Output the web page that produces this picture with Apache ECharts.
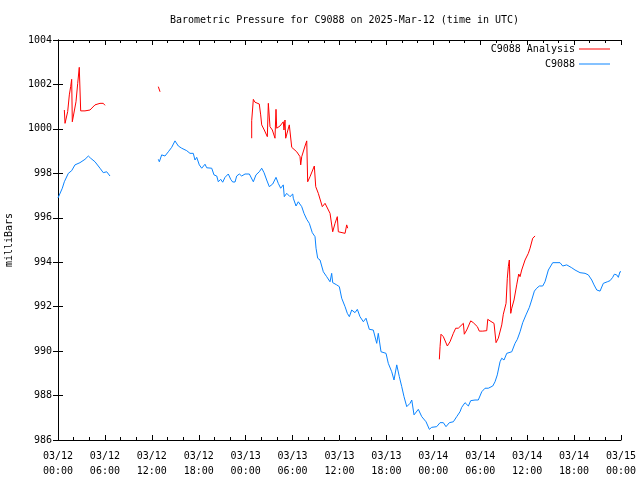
<!DOCTYPE html>
<html>
<head>
<meta charset="utf-8">
<script src="https://cdn.jsdelivr.net/npm/echarts@6/dist/echarts.min.js"></script>
<style>html,body{margin:0;padding:0;background:#fff;}#c{width:640px;height:480px;}</style>
</head>
<body>
<div id="c"></div>
<script>
// Hours since 2025-03-12 00:00 UTC; null = gap in record
var blueHours = [0,0.55,0.81,1.32,1.75,2.17,2.81,3.45,3.88,4.18,4.73,5.37,5.79,6.23,6.65,
  9.7,
  12.83,12.96,13.26,13.68,14.11,14.54,14.96,15.39,15.82,16.46,16.88,17.30,17.52,17.74,18.07,18.38,18.80,19.02,19.66,19.95,
  20.30,20.50,20.81,21.06,21.36,21.78,22.09,22.34,22.64,22.85,23.19,23.49,23.92,24.47,24.98,25.32,25.74,26.05,26.35,26.69,
  27.02,27.46,27.88,28.17,28.48,28.81,28.94,29.25,29.67,30.02,30.09,30.44,30.73,31.17,31.46,31.81,32.14,32.52,32.87,33.0,
  33.21,33.51,33.93,34.36,34.79,35.0,35.13,35.64,35.98,36.28,36.71,37.0,37.26,37.56,37.98,38.28,38.62,39.05,39.39,39.81,
  40.32,40.76,40.96,41.31,41.95,42.24,42.68,42.97,43.32,43.65,43.96,44.25,44.60,45.02,45.24,45.53,46.08,46.52,47.07,47.49,
  47.79,48.43,48.86,49.28,49.62,50.05,50.56,50.99,51.41,51.63,52.05,52.48,52.78,53.33,53.75,54.19,54.61,55.03,55.60,55.89,
  56.18,56.53,56.75,57.04,57.39,58.03,58.45,58.74,59.09,59.43,59.85,60.28,60.58,60.92,61.22,61.56,61.99,62.28,62.71,63.27,
  64.20,64.55,65.06,65.70,66.12,66.34,66.76,67.40,67.82,68.26,68.55,68.90,69.32,69.54,69.74,69.96,70.25,70.60,70.94,71.15,
  71.45,71.66,71.87,72.0];
var blueValues = [996.89,997.33,997.62,998.0,998.12,998.38,998.48,998.63,998.78,998.68,998.52,998.23,998.03,998.07,997.88,
  null,
  998.63,998.52,998.83,998.78,998.97,999.17,999.46,999.23,999.13,999.02,998.9,998.9,998.6,998.72,998.38,998.23,998.41,998.25,998.23,997.93,
  997.88,997.62,997.73,997.6,997.82,997.97,997.73,997.61,997.61,997.88,997.97,997.88,997.97,997.97,997.62,997.93,998.07,998.23,998.03,997.7,
  997.4,997.52,997.82,997.55,997.33,997.48,996.95,997.1,996.95,997.07,996.88,996.53,996.72,996.5,996.2,995.93,995.75,995.33,995.15,994.63,
  994.18,994.1,993.57,993.35,993.12,993.5,993.08,992.98,992.9,992.38,992.0,991.7,991.55,991.85,991.73,991.88,991.55,991.32,991.48,990.98,
  990.95,990.35,990.8,989.97,989.9,989.45,989.07,988.7,989.38,988.85,988.4,987.95,987.5,987.65,987.8,987.13,987.38,987.05,986.82,986.48,
  986.57,986.6,986.78,986.78,986.6,986.78,986.82,987.05,987.27,987.47,987.68,987.53,987.77,987.8,987.8,988.17,988.33,988.33,988.43,988.62,
  988.93,989.52,989.68,989.6,989.9,989.97,990.35,990.53,990.87,991.28,991.63,991.97,992.3,992.7,992.83,992.93,992.93,993.12,993.65,993.98,
  993.98,993.83,993.88,993.75,993.65,993.73,993.53,993.5,993.43,993.2,992.98,992.75,992.7,992.75,993.05,992.98,993.12,993.17,993.32,993.46,
  993.43,993.32,993.57,993.57];

var redHours = [0.81,0.9,1.11,1.24,1.45,1.62,1.75,1.83,2.08,2.3,2.52,2.72,2.9,3.45,4.09,4.73,5.37,5.79,6.01,
  9.0,
  12.83,13.05,
  18.0,
  24.77,24.77,24.98,25.19,25.74,25.92,26.05,26.38,26.77,26.90,27.11,27.41,27.75,27.88,27.97,28.39,28.81,28.90,29.03,29.12,
  29.58,29.67,29.89,30.53,30.95,31.04,31.17,31.59,31.81,31.93,32.23,32.78,32.96,33.29,33.80,34.15,34.79,35.13,35.43,35.72,
  35.85,36.07,36.71,36.92,37.05,
  43.0,
  48.77,48.86,48.98,49.28,49.79,50.13,50.56,50.86,51.19,51.84,51.96,52.27,52.78,53.11,53.63,53.88,54.32,54.83,54.96,55.25,
  55.76,56.02,56.31,56.75,56.95,57.17,57.30,57.46,57.59,57.72,57.90,58.03,58.32,58.66,58.92,59.09,59.30,59.73,60.15,60.37,
  60.71,61.01];
var redValues = [1000.85,1000.25,1000.25,1000.78,1001.53,1001.9,1002.23,1000.32,1000.32,1001.22,1002.05,1002.77,1000.81,1000.81,1000.85,1001.08,1001.15,1001.15,1001.06,
  null,
  1001.9,1001.67,
  null,
  999.58,1000.37,1001.33,1001.2,1001.12,1000.63,1000.18,999.95,999.65,1001.15,1000.1,999.95,999.58,1000.88,1000.03,1000.13,1000.32,999.95,1000.4,999.58,
  1000.18,1000.25,999.17,998.97,998.75,998.38,998.75,999.23,999.46,997.62,997.85,998.33,997.4,997.1,996.5,996.65,996.2,995.37,995.75,996.05,
  995.37,995.33,995.3,995.68,995.53,
  null,
  989.63,990.2,990.76,990.65,990.23,990.42,990.8,991.03,991.03,991.25,990.76,990.95,991.36,991.28,991.1,990.9,990.9,990.92,991.43,991.36,
  991.25,990.38,990.58,991.18,991.66,991.66,992.15,993.28,993.8,994.1,991.7,991.93,992.3,992.98,993.47,993.35,993.65,994.1,994.4,994.63,
  995.08,995.18];

var xTickLabels = ['03/12\n00:00','03/12\n06:00','03/12\n12:00','03/12\n18:00','03/13\n00:00','03/13\n06:00','03/13\n12:00',
  '03/13\n18:00','03/14\n00:00','03/14\n06:00','03/14\n12:00','03/14\n18:00','03/15\n00:00'];
var yMin = 986, yMax = 1004, yStep = 2;
var xMin = 0, xMax = 72, xStep = 6;

function pairs(hs, vs) {
  var out = [];
  for (var i = 0; i < hs.length; i++) out.push([hs[i], vs[i] === null ? '-' : vs[i]]);
  return out;
}

var FONT = 'DejaVu Sans Mono';
var axisLine = {show: true, lineStyle: {color: '#000', width: 1}};
var tickBase = {show: true, inside: true, length: 5, lineStyle: {color: '#000', width: 1}};
var minorBase = {show: true, splitNumber: 3, length: 3, lineStyle: {color: '#000', width: 1}};

var chart = echarts.init(document.getElementById('c'), null, {renderer: 'canvas'});
chart.setOption({
  animation: false,
  backgroundColor: '#fff',
  title: {
    text: 'Barometric Pressure for C9088 on 2025-Mar-12 (time in UTC)',
    left: 339.5, textAlign: 'center', top: 10,
    textStyle: {fontFamily: FONT, fontSize: 10, fontWeight: 'normal', color: '#000'}
  },
  legend: [
    {data: ['C9088 Analysis'], right: 25, top: 39, align: 'right', orient: 'vertical',
     icon: 'rect', itemWidth: 31, itemHeight: 1, itemGap: 5,
     textStyle: {fontFamily: FONT, fontSize: 10, color: '#000', padding: [0, -1, 0, 0]}},
    {data: ['C9088'], right: 25, top: 54, align: 'right', orient: 'vertical',
     icon: 'rect', itemWidth: 31, itemHeight: 1, itemGap: 5,
     textStyle: {fontFamily: FONT, fontSize: 10, color: '#000', padding: [0, -1, 0, 0]}}
  ],
  grid: {left: 58, right: 19, top: 40, bottom: 40, containLabel: false, outerBoundsMode: 'none', show: false},
  xAxis: [
    {type: 'value', position: 'bottom', min: xMin, max: xMax, interval: xStep,
     axisLine: axisLine, axisTick: tickBase, minorTick: minorBase, splitLine: {show: false},
     axisLabel: {show: true, margin: 9, fontFamily: FONT, fontSize: 10, color: '#000', lineHeight: 15,
       formatter: function (v) { var i = Math.round((v - xMin) / xStep); return xTickLabels[i] || ''; }}},
    {type: 'value', position: 'top', min: xMin, max: xMax, interval: xStep,
     axisLine: axisLine, axisTick: tickBase, minorTick: minorBase, splitLine: {show: false},
     axisLabel: {show: false}}
  ],
  yAxis: [
    {type: 'value', position: 'left', min: yMin, max: yMax, interval: yStep,
     name: 'milliBars', nameLocation: 'middle', nameGap: 44,
     nameTextStyle: {fontFamily: FONT, fontSize: 10, color: '#000'},
     axisLine: axisLine, axisTick: tickBase, splitLine: {show: false},
     axisLabel: {margin: 6, fontFamily: FONT, fontSize: 10, color: '#000',
       formatter: function (v) { return String(v); }}},
    {type: 'value', position: 'right', min: yMin, max: yMax, interval: yStep,
     axisLine: axisLine, axisTick: tickBase, splitLine: {show: false},
     axisLabel: {show: false}}
  ],
  series: [
    {name: 'C9088 Analysis', type: 'line', xAxisIndex: 0, yAxisIndex: 0,
     data: pairs(redHours, redValues), showSymbol: false, symbol: 'none', connectNulls: false,
     color: '#ff0000', lineStyle: {color: '#ff0000', width: 1}, z: 3},
    {name: 'C9088', type: 'line', xAxisIndex: 0, yAxisIndex: 0,
     data: pairs(blueHours, blueValues), showSymbol: false, symbol: 'none', connectNulls: false,
     color: '#0a84ff', lineStyle: {color: '#0a84ff', width: 1}, z: 2}
  ]
});
</script>
</body>
</html>
